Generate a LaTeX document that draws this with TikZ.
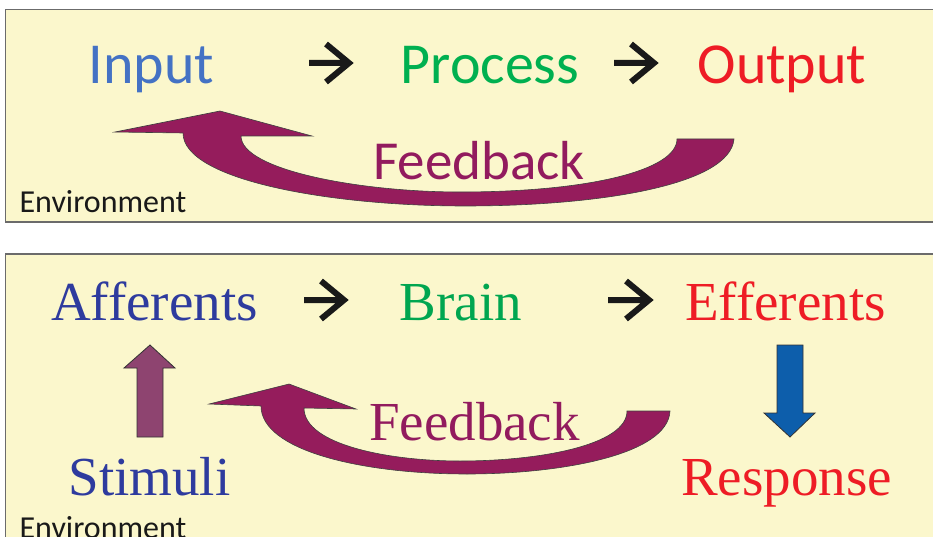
\documentclass[tikz,border=0pt]{standalone}
\usepackage{fontspec}
\setmainfont{Liberation Serif}
\newfontfamily\carl{Carlito}
\usetikzlibrary{calc}
\definecolor{panelfill}{HTML}{FBF7CC}
\definecolor{panelline}{HTML}{6B6B6B}
\definecolor{inblue}{HTML}{4472C4}
\definecolor{procgreen}{HTML}{00B050}
\definecolor{outred}{HTML}{EE1C25}
\definecolor{fbpurple}{HTML}{921B5E}
\definecolor{arrpurple}{HTML}{951C5C}
\definecolor{affblue}{HTML}{2E3B9E}
\definecolor{brgreen}{HTML}{00A650}
\definecolor{upmauve}{HTML}{8E4470}
\definecolor{downblue}{HTML}{0D5EAB}
\tikzset{
  panel/.style={fill=panelfill,draw=panelline,line width=1.5pt},
  lbl/.style={inner sep=0pt,anchor=base},
  sanslbl/.style={lbl,font=\carl\fontsize{58}{60}\selectfont},
  fbsans/.style={lbl,font=\carl\fontsize{55}{58}\selectfont},
  seriflbl/.style={lbl,font=\fontsize{55}{58}\selectfont},
  envlbl/.style={lbl,font=\carl\fontsize{32}{34}\selectfont},
  chev/.style={draw=black!90,line width=6pt,line join=miter,line cap=butt},
  bigarrow/.style={fill=arrpurple,draw=black!75,line width=0.6pt},
  blockarrow/.style={draw=black!80,line width=0.8pt}
}
\begin{document}
\begin{tikzpicture}[x=1pt,y=-1pt]
\useasboundingbox (0,0) rectangle (933,537);
\clip (0,0) rectangle (933,537);
% panels
\draw[panel] (5.5,9.5) rectangle (960,222);
\draw[panel] (5.5,254) rectangle (960,580);

% ---------- top panel ----------
\node[sanslbl,text=inblue] (input) at (151.5,84) {Input};
\node[sanslbl,text=procgreen] (process) at (490,84) {Process};
\node[sanslbl,text=outred] (output) at (782,84) {Output};
\coordinate (t1s) at (309,63);
\coordinate (t1e) at (349,63);
\coordinate (t2s) at (614,63);
\coordinate (t2e) at (654,63);
\draw[chev] (t1s) -- (t1e) ++(-23,-19) -- (t1e) -- ++(-23,19);
\draw[chev] (t2s) -- (t2e) ++(-23,-19) -- (t2e) -- ++(-23,19);

\draw[bigarrow] (115,132) -- (220,111) -- (312,136) -- (241,136)
  .. controls (241,170) and (360,192) .. (460,192)
  .. controls (590,192) and (677,170) .. (677,139)
  -- (734,139)
  .. controls (730,185) and (600,206) .. (465,206)
  .. controls (330,206) and (183,180) .. (183,133) -- cycle;
\node[fbsans,text=fbpurple] (fb1) at (479,180) {Feedback};
\node[envlbl,text=black!90] (env1) at (103,213) {Environment};

% ---------- bottom panel ----------
\node[seriflbl,text=affblue] (aff) at (154.5,320) {Afferents};
\node[seriflbl,text=brgreen] (brain) at (461,320) {Brain};
\node[seriflbl,text=outred] (eff) at (785.5,320) {Efferents};
\node[seriflbl,text=affblue] (stim) at (149.5,495) {Stimuli};
\node[seriflbl,text=outred] (resp) at (786.5,495) {Response};
\coordinate (b1s) at (304,300);
\coordinate (b1e) at (344,300);
\coordinate (b2s) at (608,300);
\coordinate (b2e) at (649,300);
\draw[chev] (b1s) -- (b1e) ++(-23,-19) -- (b1e) -- ++(-23,19);
\draw[chev] (b2s) -- (b2e) ++(-23,-19) -- (b2e) -- ++(-23,19);

\draw[bigarrow] (209,404) -- (289,384) -- (356,409) -- (304,408)
  .. controls (304,445) and (390,461) .. (460,461)
  .. controls (540,461) and (627,445) .. (627,411)
  -- (670,411)
  .. controls (668,455) and (560,474) .. (467,474)
  .. controls (360,474) and (261,450) .. (261,406) -- cycle;
\node[seriflbl,text=fbpurple] (fb2) at (474.5,440) {Feedback};

\draw[blockarrow,fill=upmauve] (137,437) -- (137,368) -- (124,368) -- (150,345)
  -- (175,368) -- (163,368) -- (163,437) -- cycle;
\draw[blockarrow,fill=downblue] (777,345) -- (803,345) -- (803,413) -- (815,413)
  -- (790,437) -- (764,413) -- (777,413) -- cycle;

\node[envlbl,text=black!90] (env2) at (103,538) {Environment};
\end{tikzpicture}
\end{document}
